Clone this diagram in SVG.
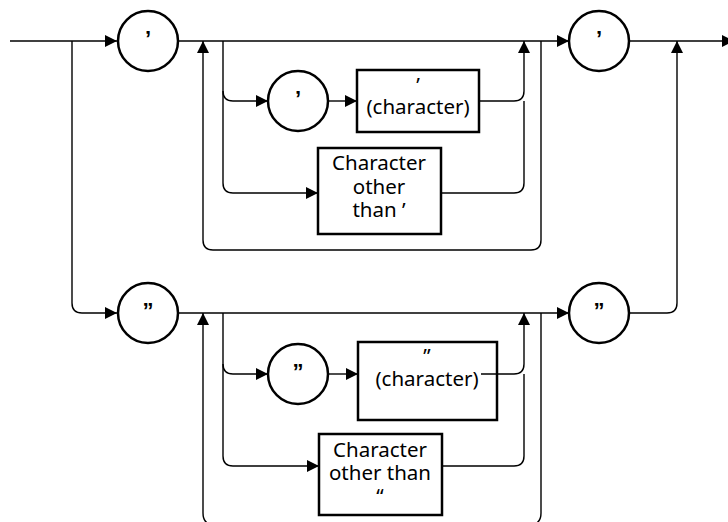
<svg xmlns="http://www.w3.org/2000/svg" width="728" height="522" viewBox="0 0 728 522">
<style>
.ln{fill:none;stroke:#000;stroke-width:1.4}
.ar{marker-end:url(#ah)}
.nd{fill:#fff;stroke:#000;stroke-width:2.5}
.t{font-family:"Noto Sans","Open Sans",sans-serif;font-size:20.5px;fill:#000;text-anchor:middle}
.q{font-family:"Liberation Sans","Noto Sans",sans-serif;font-size:22px;font-weight:bold;fill:#000;text-anchor:middle}
</style>
<defs>
<marker id="ah" markerUnits="userSpaceOnUse" markerWidth="13" markerHeight="13" refX="12" refY="6" orient="auto">
<path d="M0,0 L12,6 L0,12 z" fill="#000"/>
</marker>
</defs>
<rect width="728" height="522" fill="#fff"/>
<g id="connectors">
<path class="ln ar" d="M10,41 H117"/>
<path class="ln ar" d="M72,41 V303 Q72,313 82,313 H117"/>
<path class="ln ar" d="M179,41 H569"/>
<path class="ln ar" d="M223,41 V91 Q223,101 233,101 H268"/>
<path class="ln ar" d="M328,101 H357"/>
<path class="ln ar" d="M479,101 H514 Q524,101 524,91 V41"/>
<path class="ln ar" d="M223,91 V183 Q223,193 233,193 H318"/>
<path class="ln" d="M441,193 H514 Q524,193 524,183 V101"/>
<path class="ln ar" d="M541,41 V240 Q541,250 531,250 H213 Q203,250 203,240 V41"/>
<path class="ln ar" d="M629,41 H734"/>
<path class="ln ar" d="M629,313 H667 Q677,313 677,303 V41"/>
<path class="ln ar" d="M179,313 H569"/>
<path class="ln ar" d="M223,313 V364 Q223,374 233,374 H268"/>
<path class="ln ar" d="M328,374 H358"/>
<path class="ln ar" d="M223,364 V456 Q223,466 233,466 H319"/>
<path class="ln" d="M442,466 H514 Q524,466 524,456 V374"/>
<path class="ln ar" d="M541,313 V513 Q541,525 529,525 H215 Q203,525 203,513 V313"/>
</g>
<g id="n1"><circle class="nd" cx="148" cy="41" r="30"/><text class="q" x="148" y="46">’</text></g>
<g id="n2"><circle class="nd" cx="298" cy="101" r="30"/><text class="q" x="298" y="106">’</text></g>
<g id="n3"><rect class="nd" x="357" y="70" width="122" height="62"/><text class="t" x="418" y="92">’<tspan x="418" dy="22">(character)</tspan></text></g>
<g id="n4"><rect class="nd" x="318" y="148" width="123" height="86"/><text class="t" x="379" y="170">Character<tspan x="379" dy="23.5">other</tspan><tspan x="379" dy="23.5">than ’</tspan></text></g>
<g id="n5"><circle class="nd" cx="599" cy="41" r="30"/><text class="q" x="599" y="46">’</text></g>
<g id="n6"><circle class="nd" cx="148" cy="313" r="30"/><text class="q" x="148" y="318">”</text></g>
<g id="n7"><circle class="nd" cx="298" cy="374" r="30"/><text class="q" x="298" y="379">”</text></g>
<g id="n8"><rect class="nd" x="358" y="342" width="139" height="78"/><text class="t" x="427" y="363">”<tspan x="427" dy="23">(character)</tspan></text></g>
<path class="ln ar" d="M481,374 H514 Q524,374 524,364 V313"/>
<g id="n9"><rect class="nd" x="319" y="434" width="123" height="81"/><text class="t" x="380" y="457">Character<tspan x="380" dy="23">other than</tspan><tspan x="380" dy="23">“</tspan></text></g>
<g id="n10"><circle class="nd" cx="599" cy="313" r="30"/><text class="q" x="599" y="318">”</text></g>
</svg>
